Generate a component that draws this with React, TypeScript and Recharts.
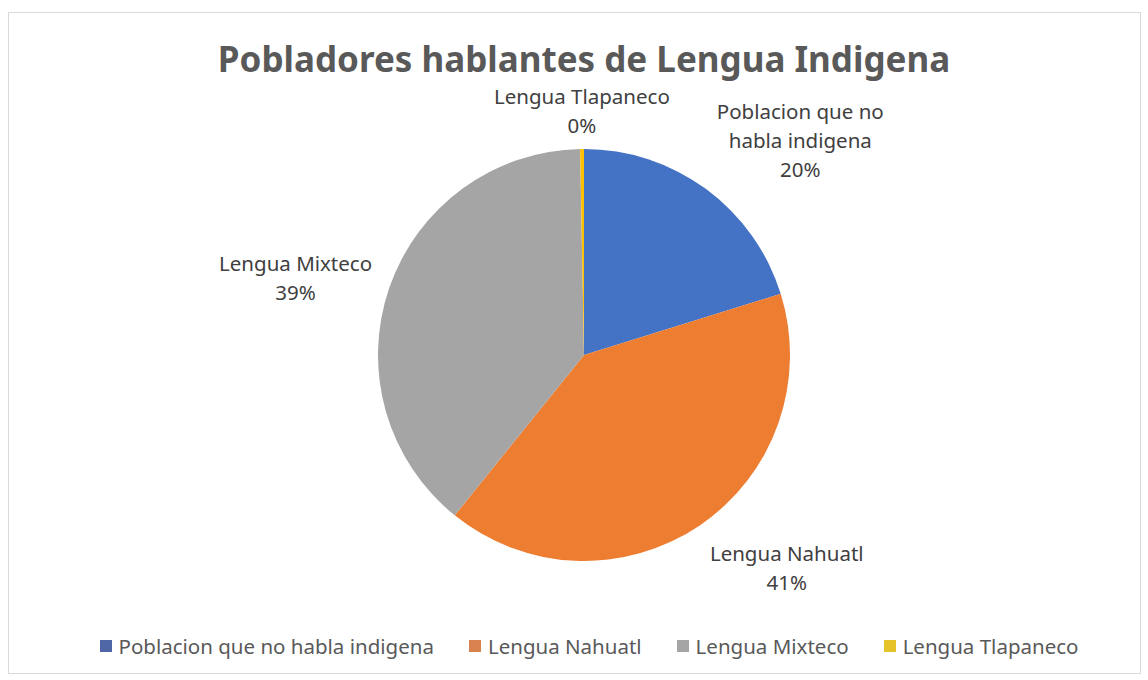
import React from 'react';
import { PieChart, Pie, Cell, Legend } from 'recharts';

const categories = ['Poblacion que no habla indigena', 'Lengua Nahuatl', 'Lengua Mixteco', 'Lengua Tlapaneco'];
const shares = [20.2, 40.6, 38.9, 0.3];
const labelLines = [['Poblacion que no', 'habla indigena'], ['Lengua Nahuatl'], ['Lengua Mixteco'], ['Lengua Tlapaneco']];
const colors = ['#4472C4', '#ED7D31', '#A5A5A5', '#FFC000'];
const legendColors = ['#4F67A6', '#D9824F', '#A5A5A5', '#E6C32B'];

const data = categories.map((name, i) => ({ name, value: shares[i] }));

const FONT = '"Noto Sans", Roboto, sans-serif';
const LABEL_SIZE = 20.5;
const LINE_H = 29;

let ctx: CanvasRenderingContext2D | null = null;
const measure = (text: string) => {
  if (!ctx) ctx = document.createElement('canvas').getContext('2d');
  if (!ctx) return text.length * LABEL_SIZE * 0.55;
  ctx.font = `${LABEL_SIZE}px ${FONT}`;
  return ctx.measureText(text).width;
};

const renderLabel = ({ cx, cy, midAngle, outerRadius, percent, index }: any) => {
  const RADIAN = Math.PI / 180;
  const r = outerRadius + 18;
  const ux = Math.cos(-midAngle * RADIAN);
  const uy = Math.sin(-midAngle * RADIAN);
  const px = cx + r * ux;
  const py = cy + r * uy;
  const lines = [...labelLines[index], `${Math.round(percent * 100)}%`];
  const boxW = Math.max(...lines.map(measure));
  const n = lines.length;

  let centerX = px;
  if (ux > 0.2) centerX = px + boxW / 2;
  else if (ux < -0.2) centerX = px - boxW / 2;

  let firstBase: number;
  if (uy < -0.5) firstBase = py - (n - 1) * LINE_H + 2;
  else if (uy > 0.5) firstBase = py + 21;
  else firstBase = py - ((n - 1) * LINE_H) / 2 + 3;

  return (
    <text key={`lbl-${index}`} fill="#404040" fontSize={LABEL_SIZE} fontFamily={FONT} textAnchor="middle">
      {lines.map((l, i) => (
        <tspan key={i} x={centerX} y={firstBase + i * LINE_H}>{l}</tspan>
      ))}
    </text>
  );
};

const renderLegend = () => (
  <div style={{ display: 'flex', justifyContent: 'center', gap: 35, fontFamily: FONT, fontSize: 20.5, color: '#595959' }}>
    {categories.map((c, i) => (
      <div key={c} style={{ display: 'flex', alignItems: 'center' }}>
        <span style={{ width: 12, height: 12, background: legendColors[i], marginRight: 7, display: 'inline-block' }} />
        <span>{c}</span>
      </div>
    ))}
  </div>
);

export default function App() {
  return (
    <div style={{ position: 'absolute', left: 0, top: 0, width: 1148, height: 680, background: '#fff' }}>
      <div style={{ position: 'absolute', left: 8, top: 12, width: 1131, height: 660, border: '1px solid #D9D9D9' }} />
      <div style={{ position: 'absolute', left: 0, top: 0 }}>
        <PieChart width={1148} height={680} margin={{ top: 0, right: 0, bottom: 0, left: 0 }}>
          <text x={584} y={72} textAnchor="middle" fill="#595959" fontSize={35} fontWeight="bold" fontFamily={FONT}>
            Pobladores hablantes de Lengua Indigena
          </text>
          <Pie
            data={data}
            dataKey="value"
            nameKey="name"
            cx={584}
            cy={355}
            outerRadius={206}
            startAngle={90}
            endAngle={-270}
            stroke="none"
            label={renderLabel}
            labelLine={false}
            isAnimationActive={false}
          >
            {data.map((entry, index) => (
              <Cell key={`cell-${index}`} fill={colors[index]} />
            ))}
          </Pie>
          <Legend content={renderLegend} verticalAlign="bottom" wrapperStyle={{ bottom: 20, left: 0, width: 1178 }} />
        </PieChart>
      </div>
    </div>
  );
}
